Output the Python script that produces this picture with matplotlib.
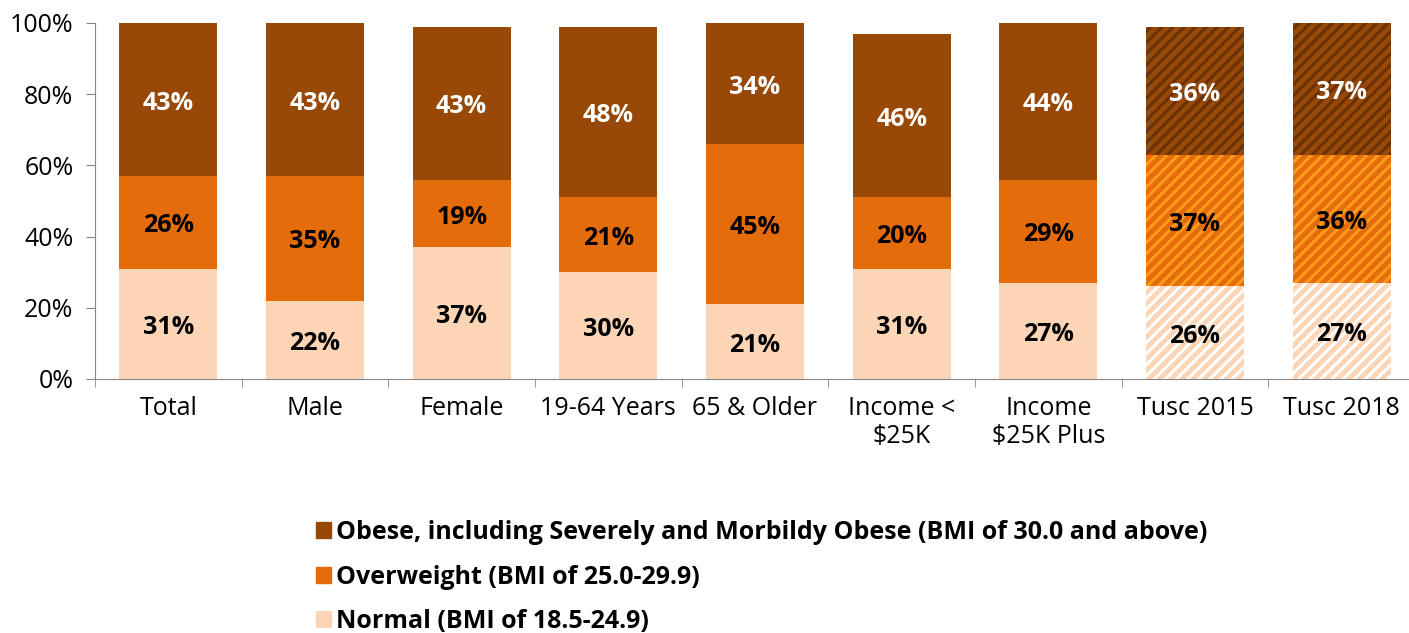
import numpy as np
import matplotlib.pyplot as plt

plt.rcParams['font.family'] = ['Open Sans', 'DejaVu Sans']
plt.rcParams['hatch.linewidth'] = 2.2

categories = ["Total", "Male", "Female", "19-64 Years", "65 & Older",
              "Income <\n$25K", "Income\n$25K Plus", "Tusc 2015", "Tusc 2018"]
normal = [31, 22, 37, 30, 21, 31, 27, 26, 27]
overweight = [26, 35, 19, 21, 45, 20, 29, 37, 36]
obese = [43, 43, 43, 48, 34, 46, 44, 36, 37]
hatched = [False] * 7 + [True] * 2

labels = ["Obese, including Severely and Morbildy Obese (BMI of 30.0 and above)",
          "Overweight (BMI of 25.0-29.9)",
          "Normal (BMI of 18.5-24.9)"]
colors = {"obese": "#984807", "over": "#E46C0A", "normal": "#FBD5B5"}
hatch_colors = {"obese": "#6A3105", "over": "#FF9A1A", "normal": "#FFFFFF"}

fig = plt.figure(figsize=(14.09, 6.33), dpi=100)
ax = fig.add_axes([95 / 1409, 1 - 379 / 633, 1320 / 1409, 356 / 633])

x = np.arange(len(categories))
w = 0.67
series = [("normal", normal, "black"), ("over", overweight, "black"), ("obese", obese, "white")]
bottom = np.zeros(len(categories))
for key, vals, tc in series:
    vals = np.array(vals, dtype=float)
    for i in range(len(categories)):
        if hatched[i]:
            ax.bar(x[i], vals[i], w, bottom=bottom[i], color=colors[key],
                   edgecolor=hatch_colors[key], hatch="///", linewidth=0)
        else:
            ax.bar(x[i], vals[i], w, bottom=bottom[i], color=colors[key], linewidth=0)
        # labels sit a touch below the segment middle in the original
        ax.text(x[i], bottom[i] + vals[i] / 2 - 1, "%d%%" % vals[i], ha="center", va="center",
                color=tc, fontsize=18, fontweight="bold")
    bottom += vals

ax.set_xlim(-0.5, len(categories) - 0.5)
ax.set_ylim(0, 100)
ax.set_yticks(range(0, 101, 20))
ax.set_yticklabels(["%d%%" % v for v in range(0, 101, 20)], fontsize=18)
ax.set_xticks(x)
ax.set_xticklabels(categories, fontsize=18, va="top")
ax.tick_params(axis="x", length=0, pad=12)
ax.set_xticks(np.arange(-0.5, len(categories), 1), minor=True)
ax.tick_params(axis="x", which="minor", length=6, color="#868686")
ax.tick_params(axis="y", length=6.5, color="#868686", pad=9)
for s in ["top", "right"]:
    ax.spines[s].set_visible(False)
for s in ["left", "bottom"]:
    ax.spines[s].set_color("#868686")

handles = [plt.Rectangle((0, 0), 1, 1, color=colors[k]) for k in ["obese", "over", "normal"]]
fig.legend(handles, labels, loc="upper left", bbox_to_anchor=(306 / 1409, 1 - 510 / 633),
           frameon=False, prop={"size": 18, "weight": "bold"}, handlelength=0.6,
           handleheight=0.6, handletextpad=0.2, labelspacing=0.78, borderaxespad=0)

fig.savefig("out.png", dpi=100)
